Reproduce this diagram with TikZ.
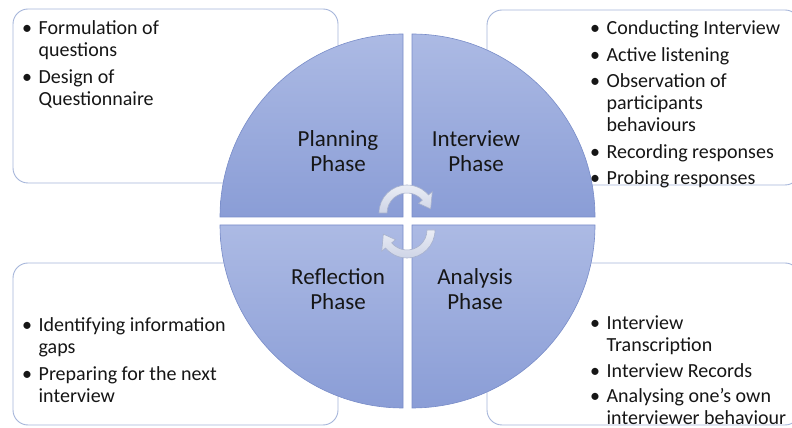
\documentclass[tikz,border=0pt]{standalone}
\usepackage{fontspec}
\setmainfont{Carlito}
\definecolor{boxline}{RGB}{165,181,218}
\definecolor{quadtop}{RGB}{172,186,228}
\definecolor{quadbot}{RGB}{138,157,214}
\definecolor{quadline}{RGB}{120,140,200}
\definecolor{arrowtop}{RGB}{234,237,245}
\definecolor{arrowbot}{RGB}{206,212,230}
\definecolor{arrowline}{RGB}{168,178,205}
\definecolor{textdark}{RGB}{22,22,22}
\begin{document}
\begin{tikzpicture}[x=1pt,y=1pt,
  infobox/.style={draw=boxline, line width=0.9pt, fill=white, rounded corners=15pt},
  quad/.style={draw=quadline, line width=0.6pt, top color=quadtop, bottom color=quadbot},
  phase/.style={font=\fontsize{23}{25}\selectfont, text=textdark, inner sep=0pt, anchor=base},
  bullets/.style={font=\fontsize{20}{22}\selectfont, text=textdark, inner sep=0pt, anchor=base west},
  cyc/.style={draw=arrowline, line width=0.6pt, top color=arrowtop, bottom color=arrowbot}]
\useasboundingbox (0,0) rectangle (792,428);
\clip (0,0) rectangle (792,428);

% detail boxes behind the circle
\draw[infobox] (13,245) rectangle (338,419);
\draw[infobox] (487,243) rectangle (800,418);
\draw[infobox] (13,3) rectangle (338,165);
\draw[infobox] (487,3) rectangle (800,165);

% the four quarters of the cycle
\draw[quad] (403,211) -- ++(-183,0) arc[start angle=180, end angle=90, radius=183pt] -- cycle;
\draw[quad] (412,211) -- ++(0,183) arc[start angle=90, end angle=0, radius=183pt] -- cycle;
\draw[quad] (403,203) -- ++(0,-183) arc[start angle=270, end angle=180, radius=183pt] -- cycle;
\draw[quad] (412,203) -- ++(183,0) arc[start angle=0, end angle=-90, radius=183pt] -- cycle;

% phase names
\node[phase] (plan) at (338,281) {\begin{tabular}[t]{@{}c@{}}Planning\\Phase\end{tabular}};
\node[phase] (intv) at (476,281) {\begin{tabular}[t]{@{}c@{}}Interview\\Phase\end{tabular}};
\node[phase] (refl) at (338,143) {\begin{tabular}[t]{@{}c@{}}Reflection\\Phase\end{tabular}};
\node[phase] (anal) at (475,143) {\begin{tabular}[t]{@{}c@{}}Analysis\\Phase\end{tabular}};

% circular arrows in the middle
\begin{scope}[shift={(407,215)}]
\draw[cyc] (180:28pt) arc[start angle=180, end angle=40, radius=28pt]
  -- (40:33pt) -- (10:24pt) -- (40:15pt) -- (40:20pt)
  arc[start angle=40, end angle=180, radius=20pt] -- cycle;
\end{scope}
\begin{scope}[shift={(407,198)}]
\draw[cyc] (0:28pt) arc[start angle=0, end angle=-140, radius=28pt]
  -- (-140:33pt) -- (-170:24pt) -- (-140:15pt) -- (-140:20pt)
  arc[start angle=-140, end angle=0, radius=20pt] -- cycle;
\end{scope}

% activities of each phase
\node[bullets] (planlist) at (22,393) {\begin{tabular}[t]{@{}l@{\hspace{6.5pt}}l@{}}
\textbullet & Formulation of\\ & questions\\[4.5pt]
\textbullet & Design of\\ & Questionnaire\end{tabular}};
\node[bullets] (intvlist) at (590,393) {\begin{tabular}[t]{@{}l@{\hspace{6.5pt}}l@{}}
\textbullet & Conducting Interview\\[4.5pt]
\textbullet & Active listening\\[4.5pt]
\textbullet & Observation of\\ & participants\\ & behaviours\\[4.5pt]
\textbullet & Recording responses\\[4.5pt]
\textbullet & Probing responses\end{tabular}};
\node[bullets] (refllist) at (22,96) {\begin{tabular}[t]{@{}l@{\hspace{6.5pt}}l@{}}
\textbullet & Identifying information\\ & gaps\\[4.5pt]
\textbullet & Preparing for the next\\ & interview\end{tabular}};
\node[bullets] (anallist) at (590,98) {\begin{tabular}[t]{@{}l@{\hspace{6.5pt}}l@{}}
\textbullet & Interview\\ & Transcription\\[3.5pt]
\textbullet & Interview Records\\[3.5pt]
\textbullet & Analysing one’s own\\ & interviewer behaviour\end{tabular}};
\end{tikzpicture}
\end{document}
